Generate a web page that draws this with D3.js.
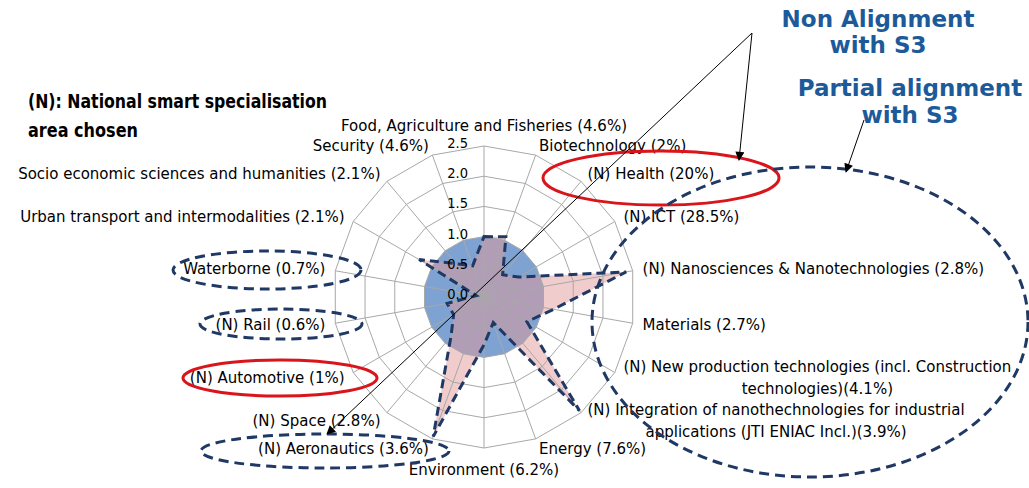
<!DOCTYPE html>
<html>
<head>
<meta charset="utf-8">
<script src="https://cdn.jsdelivr.net/npm/d3@7/dist/d3.min.js"></script>
<style>
  body { margin: 0; background: #fff; }
  svg { display: block; font-family: "DejaVu Sans", sans-serif; }
</style>
</head>
<body>
<div id="chart"></div>
<script>
// Configuration
const width = 1029;
const height = 488;
const cx = 484;
const cy = 297;
const outerRadius = 151;
const labelGap = 10;

// Data
const categories = [
  ["Food, Agriculture and Fisheries (4.6%)"],
  ["Biotechnology (2%)"],
  ["(N) Health (20%)"],
  ["(N) ICT (28.5%)"],
  ["(N) Nanosciences & Nanotechnologies (2.8%)"],
  ["Materials (2.7%)"],
  ["(N) New production technologies (incl. Construction", "technologies)(4.1%)"],
  ["(N) Integration of nanothechnologies for industrial", "applications (JTI ENIAC Incl.)(3.9%)"],
  ["Energy (7.6%)"],
  ["Environment (6.2%)"],
  ["(N) Aeronautics (3.6%)"],
  ["(N) Space (2.8%)"],
  ["(N) Automotive (1%)"],
  ["(N) Rail (0.6%)"],
  ["Waterborne (0.7%)"],
  ["Urban transport and intermodalities (2.1%)"],
  ["Socio economic sciences and humanities (2.1%)"],
  ["Security (4.6%)"]
];
const referenceValues = [1, 1, 1, 1, 1, 1, 1, 1, 1, 1, 1, 1, 1, 1, 1, 1, 1, 1];
const countryValues = [1.0, 1.06, 0.48, 0.66, 2.39, 1.17, 0.82, 2.46, 0.45, 0.79, 2.46, 0.85, 0.58, 0.62, 0.13, 1.24, 0.72, 0.55];
const tickValues = [0, 0.5, 1.0, 1.5, 2.0, 2.5];

// Scales
const r = d3.scaleLinear([0, 2.5], [0, outerRadius]);
const angle = d3.scaleLinear([0, categories.length], [0, 2 * Math.PI]);

const svg = d3.create("svg")
  .attr("viewBox", [0, 0, width, height])
  .attr("width", width)
  .attr("height", height);
d3.select("#chart").node().appendChild(svg.node());

const defs = svg.append("defs");
defs.append("marker")
  .attr("id", "arrow")
  .attr("viewBox", "0 0 10 10")
  .attr("refX", 9).attr("refY", 5)
  .attr("markerWidth", 13).attr("markerHeight", 9)
  .attr("markerUnits", "userSpaceOnUse")
  .attr("orient", "auto")
  .append("path")
  .attr("d", "M0,0 L10,5 L0,10 Z")
  .attr("fill", "#000");

const plot = svg.append("g").attr("transform", `translate(${cx},${cy})`);

const radial = d3.lineRadial()
  .angle((d, i) => angle(i))
  .radius(d => r(d))
  .curve(d3.curveLinearClosed);

// Series fills
plot.append("path")
  .attr("d", radial(referenceValues))
  .attr("fill", "#7ea3d2");

plot.append("path")
  .attr("d", radial(countryValues))
  .attr("fill", "#e49a9a")
  .attr("fill-opacity", 0.5);

// Grid
const grid = plot.append("g")
  .attr("fill", "none")
  .attr("stroke", "#a8a8a8")
  .attr("stroke-width", 1);

grid.selectAll("path.ring")
  .data(tickValues.slice(1))
  .join("path")
  .attr("class", "ring")
  .attr("d", t => radial(categories.map(() => t)));

grid.selectAll("line.spoke")
  .data(categories)
  .join("line")
  .attr("class", "spoke")
  .attr("x1", 0).attr("y1", 0)
  .attr("x2", (d, i) => r(2.5) * Math.sin(angle(i)))
  .attr("y2", (d, i) => -r(2.5) * Math.cos(angle(i)));

// Country outline
plot.append("path")
  .attr("d", radial(countryValues))
  .attr("fill", "none")
  .attr("stroke", "#1f3864")
  .attr("stroke-width", 3)
  .attr("stroke-dasharray", "9,5");

// Radial tick labels
plot.append("g")
  .style("font-family", "'DejaVu Sans Condensed', 'DejaVu Sans', sans-serif")
  .style("font-size", "14.5px")
  .attr("text-anchor", "end")
  .selectAll("text")
  .data(tickValues)
  .join("text")
  .attr("x", -16)
  .attr("y", t => -r(t) - 3)
  .attr("dy", "0.35em")
  .text(t => d3.format(".1f")(t));

// Category labels
const lineHeight = 22;
const labelG = svg.append("g")
  .style("font-size", "15px")
  .attr("fill", "#000");

categories.forEach((lines, i) => {
  const a = angle(i);
  const s = Math.sin(a), c = Math.cos(a);
  const x0 = cx + (outerRadius + labelGap) * s;
  const y0 = cy - (outerRadius + labelGap) * c;
  const text = labelG.append("text").attr("text-anchor", "middle");
  const spans = lines.map(l => text.append("tspan").text(l));
  const w = d3.max(spans, sp => sp.node().getComputedTextLength());
  let bx = x0;
  if (s > 0.01) bx = x0 + w / 2;
  else if (s < -0.01) bx = x0 - w / 2;
  const h = lines.length * lineHeight;
  let by = y0;
  if (c > 0.99) by = y0 - 10;
  else if (c < -0.99) by = y0 + 12;
  spans.forEach((sp, j) => {
    sp.attr("x", bx)
      .attr("y", by - h / 2 + lineHeight * (j + 0.5))
      .attr("dy", "0.35em");
  });
});

// Annotations
const ann = svg.append("g").attr("fill", "none");

const redEllipses = [
  {cx: 661, cy: 178, rx: 118, ry: 27},
  {cx: 280, cy: 378, rx: 97, ry: 18}
];
const blueEllipses = [
  {cx: 267, cy: 270, rx: 94, ry: 19},
  {cx: 281, cy: 324, rx: 81, ry: 15},
  {cx: 325, cy: 451, rx: 124, ry: 17},
  {cx: 810, cy: 322, rx: 218, ry: 155}
];

ann.selectAll("ellipse.red")
  .data(redEllipses)
  .join("ellipse")
  .attr("class", "red")
  .attr("cx", d => d.cx).attr("cy", d => d.cy)
  .attr("rx", d => d.rx).attr("ry", d => d.ry)
  .attr("stroke", "#d9141a")
  .attr("stroke-width", 3);

ann.selectAll("ellipse.blue")
  .data(blueEllipses)
  .join("ellipse")
  .attr("class", "blue")
  .attr("cx", d => d.cx).attr("cy", d => d.cy)
  .attr("rx", d => d.rx).attr("ry", d => d.ry)
  .attr("stroke", "#1f3864")
  .attr("stroke-width", 3)
  .attr("stroke-dasharray", "10,6");

const arrows = [
  [[752, 33], [739, 160]],
  [[752, 33], [327, 434]],
  [[864, 120], [846, 172]]
];
ann.selectAll("line.arrow")
  .data(arrows)
  .join("line")
  .attr("class", "arrow")
  .attr("x1", d => d[0][0]).attr("y1", d => d[0][1])
  .attr("x2", d => d[1][0]).attr("y2", d => d[1][1])
  .attr("stroke", "#000")
  .attr("stroke-width", 1)
  .attr("marker-end", "url(#arrow)");

// Callout titles
const callouts = svg.append("g")
  .style("font-family", "'DejaVu Sans', Verdana, sans-serif")
  .style("font-weight", "bold")
  .style("font-size", "23px")
  .attr("fill", "#1c5a9a")
  .attr("text-anchor", "middle");

callouts.append("text").attr("x", 878).attr("y", 27).text("Non Alignment");
callouts.append("text").attr("x", 878).attr("y", 53).text("with S3");
callouts.append("text").attr("x", 910).attr("y", 96).text("Partial alignment");
callouts.append("text").attr("x", 910).attr("y", 123).text("with S3");

const note = svg.append("g")
  .style("font-family", "'DejaVu Sans Condensed', sans-serif")
  .style("font-weight", "bold")
  .style("font-size", "19px")
  .attr("fill", "#000");
note.append("text").attr("x", 28).attr("y", 108)
  .attr("textLength", 299).attr("lengthAdjust", "spacingAndGlyphs")
  .text("(N): National smart specialisation");
note.append("text").attr("x", 28).attr("y", 137)
  .attr("textLength", 110).attr("lengthAdjust", "spacingAndGlyphs")
  .text("area chosen");
</script>
</body>
</html>
